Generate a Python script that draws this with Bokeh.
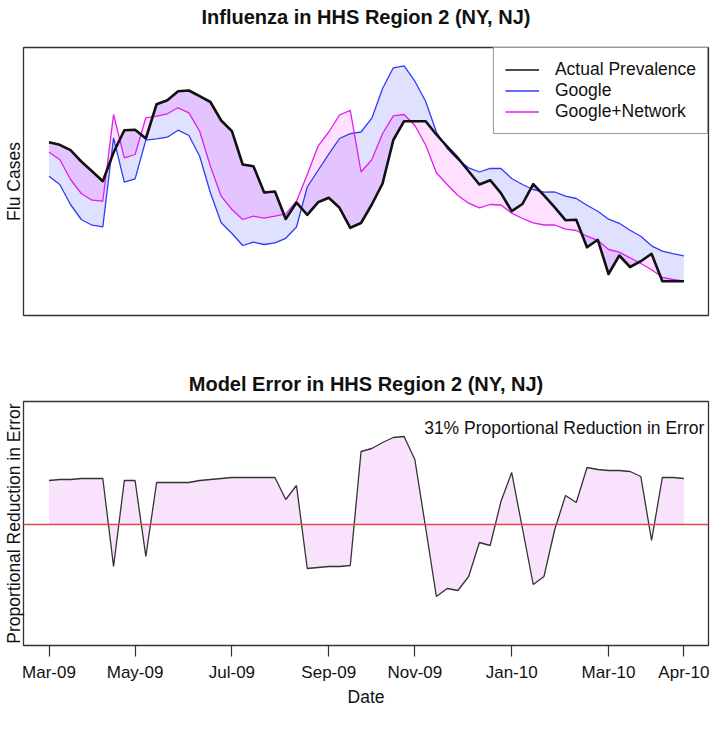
from bokeh.plotting import figure
from bokeh.layouts import column
from bokeh.models import ColumnDataSource, FixedTicker, Legend, LegendItem, Label, Span, Title
from bokeh.embed import file_html
from bokeh.resources import INLINE

# ---- data (weekly, Mar 2009 - Apr 2010) ----
week = list(range(60))
tick_weeks = [0, 8, 17, 26, 34, 43, 52, 59]
tick_labels = ["Mar-09", "May-09", "Jul-09", "Sep-09", "Nov-09", "Jan-10", "Mar-10", "Apr-10"]

actual = [173.3, 170.7, 165.3, 154.0, 144.3, 134.3, 163.0, 185.3, 185.7, 177.0,
          211.3, 215.2, 224.3, 225.0, 219.3, 213.5, 195.0, 184.3, 151.0, 149.3,
          123.0, 124.0, 96.5, 113.0, 100.7, 113.2, 117.7, 107.7, 87.7, 92.5,
          111.0, 132.0, 175.5, 194.3, 194.3, 194.3, 181.0, 169.0, 157.5, 144.3,
          131.0, 135.3, 122.3, 104.3, 111.5, 131.3, 120.2, 108.2, 95.3, 95.7,
          68.2, 75.7, 41.5, 60.0, 48.5, 54.3, 61.7, 34.3, 34.3, 34.3]

google = [139.3, 131.0, 111.0, 96.0, 90.3, 88.7, 177.7, 133.3, 136.7, 175.3,
          176.7, 178.3, 185.3, 180.0, 159.3, 122.7, 92.7, 82.0, 70.0, 73.3,
          71.0, 72.7, 77.2, 88.5, 128.5, 145.0, 161.3, 177.0, 181.8, 183.5,
          197.3, 227.0, 247.7, 249.7, 234.3, 214.3, 183.5, 167.0, 156.0, 147.7,
          143.5, 147.2, 147.0, 137.0, 131.0, 126.0, 123.3, 123.5, 119.3, 117.0,
          110.2, 104.3, 96.3, 92.2, 85.2, 79.3, 69.7, 64.3, 61.8, 59.7]

google_network = [163.3, 156.0, 136.0, 122.0, 115.3, 114.3, 201.0, 157.7, 161.0, 197.7,
                  199.3, 201.7, 207.7, 202.7, 184.3, 149.3, 119.3, 106.0, 96.0, 99.3,
                  97.3, 99.3, 101.7, 114.3, 141.0, 169.3, 183.5, 200.5, 205.2, 143.5,
                  155.7, 182.0, 199.7, 201.0, 190.0, 170.5, 142.7, 131.0, 120.0, 112.3,
                  107.7, 111.0, 110.5, 102.3, 97.0, 92.7, 90.5, 90.5, 86.3, 85.0,
                  79.3, 75.2, 66.0, 63.3, 57.7, 52.0, 45.7, 38.2, 36.0, 34.3]

reduction = [0.44, 0.45, 0.45, 0.46, 0.46, 0.46, -0.42, 0.44, 0.44, -0.32,
             0.42, 0.42, 0.42, 0.42, 0.44, 0.45, 0.46, 0.47, 0.47, 0.47,
             0.47, 0.47, 0.25, 0.39, -0.44, -0.43, -0.42, -0.42, -0.41, 0.73,
             0.76, 0.82, 0.87, 0.88, 0.65, -0.03, -0.72, -0.64, -0.66, -0.52,
             -0.18, -0.21, 0.23, 0.52, -0.04, -0.60, -0.52, -0.05, 0.29, 0.22,
             0.57, 0.55, 0.54, 0.54, 0.53, 0.48, -0.16, 0.47, 0.47, 0.46]
zero_line = [0.0] * len(week)

FONT = "Liberation Sans"
X_RANGE = (-2.37, 61.29)

src = ColumnDataSource(dict(x=week, actual=actual, google=google, gn=google_network,
                            red=reduction, zero=zero_line))


def style(p):
    p.outline_line_color = "#333333"
    p.outline_line_width = 1.3
    p.xgrid.visible = False
    p.ygrid.visible = False
    p.background_fill_color = "white"
    p.border_fill_color = "white"
    ax = p.yaxis[0]
    ax.ticker = FixedTicker(ticks=[])
    ax.major_tick_out = 0
    ax.major_tick_in = 0
    ax.minor_tick_out = 0
    ax.minor_tick_in = 0
    ax.axis_line_color = None
    ax.major_label_standoff = 0
    ax.axis_label_standoff = 0
    ax.axis_label_text_font = FONT
    ax.axis_label_text_font_size = "17.5px"
    ax.axis_label_text_font_style = "normal"
    ax.axis_label_text_color = "#111111"


def set_title(t, text, standoff):
    t.text = text
    t.text_font = FONT
    t.text_font_size = "20px"
    t.text_font_style = "bold"
    t.align = "center"
    t.text_color = "#111111"
    t.standoff = standoff


# ---------------- top panel ----------------
p1 = figure(frame_width=685, frame_height=268, x_range=X_RANGE, y_range=(0, 268),
            x_axis_type=None, output_backend="svg", toolbar_location=None,
            min_border_left=16, min_border_right=6, min_border_top=47, min_border_bottom=24)
style(p1)
set_title(p1.title, "Influenza in HHS Region 2 (NY, NJ)", 4)
# thin spacer panel between the title and the frame
spacer = Title(text=" ", text_font_size="2px", standoff=14)
p1.add_layout(spacer, "above")
p1.yaxis[0].axis_label = "Flu Cases"

p1.varea(x="x", y1="actual", y2="google", source=src, fill_color="#0000ff", fill_alpha=0.12)
p1.varea(x="x", y1="actual", y2="gn", source=src, fill_color="#ff00ff", fill_alpha=0.12)
r_g = p1.line(x="x", y="google", source=src, line_color="#2f3cf5", line_width=1.3)
r_n = p1.line(x="x", y="gn", source=src, line_color="#e01ef0", line_width=1.3)
# thin copy of the actual series (hidden under the thick line) used for the legend key
r_a_key = p1.line(x="x", y="actual", source=src, line_color="#111111", line_width=1.3)
p1.line(x="x", y="actual", source=src, line_color="#111111", line_width=2.6,
        line_join="round")

legend = Legend(items=[LegendItem(label="Actual Prevalence", renderers=[r_a_key]),
                       LegendItem(label="Google", renderers=[r_g]),
                       LegendItem(label="Google+Network", renderers=[r_n])],
                location="top_right")
legend.margin = 0
legend.padding = 11
legend.spacing = 0
legend.glyph_width = 34
legend.glyph_height = 21
legend.label_height = 21
legend.label_standoff = 16
legend.label_text_font = FONT
legend.label_text_font_size = "17.5px"
legend.label_text_color = "#111111"
legend.border_line_color = "#333333"
legend.border_line_width = 1.2
legend.background_fill_alpha = 1.0
p1.add_layout(legend)

# ---------------- bottom panel ----------------
p2 = figure(frame_width=685, frame_height=244, x_range=X_RANGE, y_range=(-1.21, 1.23),
            output_backend="svg", toolbar_location=None,
            min_border_left=16, min_border_right=6, min_border_top=62, min_border_bottom=40)
style(p2)
set_title(p2.title, "Model Error in HHS Region 2 (NY, NJ)", 14)
p2.yaxis[0].axis_label = "Proportional Reduction in Error"

xa = p2.xaxis[0]
xa.ticker = FixedTicker(ticks=tick_weeks)
xa.major_label_overrides = {t: l for t, l in zip(tick_weeks, tick_labels)}
xa.major_tick_out = 11
xa.major_tick_in = 0
xa.minor_tick_out = 0
xa.minor_tick_in = 0
xa.major_tick_line_color = "#333333"
xa.major_tick_line_width = 1.2
xa.axis_line_color = None
xa.major_label_standoff = 6
xa.major_label_text_font = FONT
xa.major_label_text_font_size = "17px"
xa.major_label_text_color = "#111111"
xa.axis_label = "Date"
xa.axis_label_standoff = 2
xa.axis_label_text_font = FONT
xa.axis_label_text_font_size = "17.5px"
xa.axis_label_text_font_style = "normal"
xa.axis_label_text_color = "#111111"

p2.varea(x="x", y1="red", y2="zero", source=src, fill_color="#e070f0", fill_alpha=0.2)
p2.add_layout(Span(location=0, dimension="width", line_color="#e34848", line_width=1.6))
p2.line(x="x", y="red", source=src, line_color="#333333", line_width=1.3)
p2.add_layout(Label(x=60.9, y=0.97, text="31% Proportional Reduction in Error",
                    text_align="right", text_baseline="middle", text_font=FONT,
                    text_font_size="17.5px", text_color="#111111"))

layout = column(p1, p2, spacing=0)
open("out.html", "w").write(file_html(layout, INLINE))
